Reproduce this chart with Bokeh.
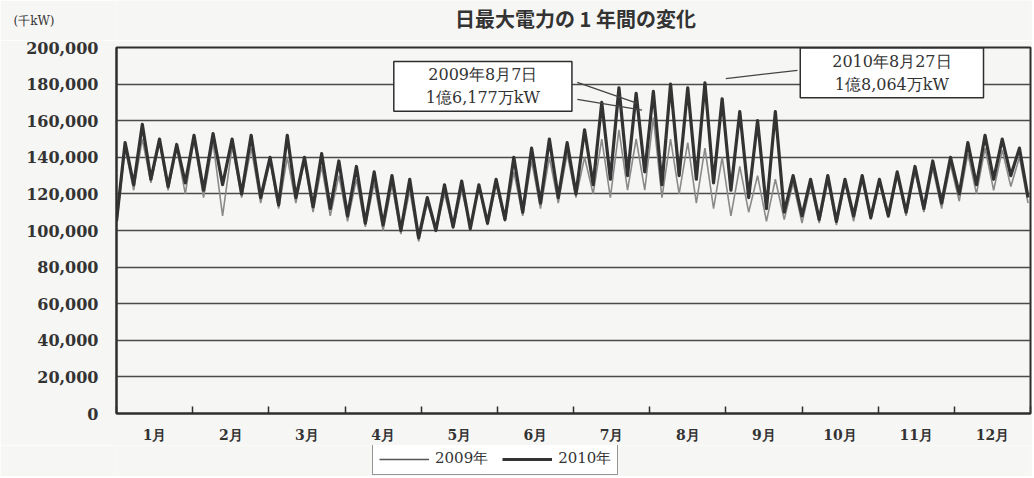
import numpy as np
from bokeh.plotting import figure
from bokeh.layouts import column
from bokeh.models import (FixedTicker, NumeralTickFormatter, Label, Legend, LegendItem,
                          ColumnDataSource)
from bokeh.embed import file_html
from bokeh.resources import INLINE

# ---------------- data (千kW) ----------------
title_text = "日最大電力の 1 年間の変化"
unit_text = "(千kW)"
month_labels = ["1月", "2月", "3月", "4月", "5月", "6月", "7月", "8月", "9月", "10月", "11月", "12月"]
month_days = [31, 28, 31, 30, 31, 30, 31, 31, 30, 31, 30, 31]

# weekly lows (Sundays, 53) and weekly highs (mid-week, 52)
lows_2010 = [105000, 125000, 128000, 124000, 126000, 122000, 125000, 120000, 118000,
             114000, 118000, 113000, 112000, 108000, 104000, 103000, 100000,
             96000, 100000, 102000, 101000, 104000, 106000, 110000, 115000, 118000,
             120000, 125000, 128000, 130000, 132000, 125000, 130000, 128000,
             126000, 122000, 118000, 112000, 110000, 108000, 106000, 105000, 108000, 107000,
             108000, 110000, 112000, 115000, 120000, 125000, 128000, 130000, 118000]
highs_2010 = [148000, 158000, 150000, 147000, 152000, 153000, 150000, 152000, 140000,
              152000, 140000, 142000, 138000, 135000, 132000, 130000, 128000,
              118000, 125000, 127000, 125000, 128000, 140000, 145000, 150000, 148000,
              155000, 170000, 178000, 175000, 176000, 180000, 178000, 180640,
              172000, 165000, 160000, 165000, 130000, 128000, 130000, 128000, 130000,
              128000, 132000, 135000, 138000, 140000, 148000, 152000, 150000, 145000]

lows_2009 = [103000, 122000, 126000, 122000, 120000, 118000, 108000, 118000, 115000,
             112000, 115000, 110000, 108000, 105000, 102000, 100000, 98000,
             94000, 100000, 101000, 102000, 103000, 105000, 108000, 112000, 115000,
             118000, 120000, 118000, 122000, 122000, 118000, 120000, 115000,
             112000, 108000, 110000, 105000, 106000, 104000, 104000, 103000, 105000, 106000,
             107000, 108000, 110000, 112000, 116000, 120000, 122000, 124000, 115000]
highs_2009 = [145000, 150000, 148000, 145000, 150000, 148000, 146000, 145000, 138000,
              140000, 138000, 135000, 130000, 128000, 126000, 125000, 122000,
              115000, 120000, 122000, 124000, 125000, 132000, 138000, 140000, 142000,
              140000, 150000, 155000, 150000, 161770, 150000, 148000, 145000,
              140000, 135000, 130000, 128000, 126000, 125000, 127000, 126000, 128000,
              126000, 130000, 132000, 134000, 136000, 142000, 145000, 144000, 140000]

# ---------------- helpers ----------------
month_starts = np.concatenate([[0], np.cumsum(month_days)])


def series(lows, highs):
    days, vals = [], []
    for k in range(len(lows)):
        days.append(7 * k)
        vals.append(lows[k])
        if k < len(highs):
            days.append(7 * k + 3.5)
            vals.append(highs[k])
    days = np.minimum(np.array(days, dtype=float), 365)
    x = np.interp(days, month_starts, np.arange(13))
    return ColumnDataSource(dict(x=x, y=vals))


src09 = series(lows_2009, highs_2009)
src10 = series(lows_2010, highs_2010)

SERIF = "DejaVu Serif"
CJK = "Noto Sans CJK JP"
INK = "#2e2e2e"
TXT = "#333333"
BG = "#f6f6f4"
W = 1032
FL, FR = 116, 1030   # frame left / right on the page (frames are aligned in the column)

# ---------------- header (title + unit) ----------------
head = figure(width=W, height=40, output_backend="svg", toolbar_location=None,
              x_range=(FL, FR), y_range=(0, 40), x_axis_location=None,
              min_border=0, min_border_left=FL, min_border_right=W - FR,
              background_fill_color=BG, border_fill_color=BG)
head.outline_line_color = None
head.grid.visible = False
head.yaxis.ticker = FixedTicker(ticks=[20])
head.yaxis.major_label_overrides = {20: unit_text}
head.yaxis.axis_line_color = None
head.yaxis.major_tick_in = 0
head.yaxis.major_tick_out = 0
head.yaxis.minor_tick_in = 0
head.yaxis.minor_tick_out = 0
head.yaxis.major_label_text_font = SERIF
head.yaxis.major_label_text_font_size = "12px"
head.yaxis.major_label_text_color = TXT
head.yaxis.major_label_standoff = 62
head.add_layout(Label(x=575, y=22, text=title_text, text_align="center", text_baseline="middle",
                      text_font=CJK, text_font_size="20px", text_font_style="bold",
                      text_color=TXT))

# ---------------- main plot ----------------
p = figure(width=W, height=405, output_backend="svg", toolbar_location=None,
           x_range=(0, 12), y_range=(0, 200000),
           min_border_left=FL, min_border_right=W - FR, min_border_top=7, min_border_bottom=30,
           background_fill_color=BG, border_fill_color=BG)

p.outline_line_color = INK
p.outline_line_width = 2

p.xgrid.grid_line_color = None
p.ygrid.grid_line_color = "#4a4a4a"
p.ygrid.grid_line_width = 1.5

p.yaxis.ticker = FixedTicker(ticks=list(range(0, 200001, 20000)))
p.yaxis.formatter = NumeralTickFormatter(format="0,0")
p.yaxis.major_tick_out = 0
p.yaxis.major_tick_in = 0
p.yaxis.minor_tick_out = 0
p.yaxis.minor_tick_in = 0
p.yaxis.axis_line_color = INK
p.yaxis.axis_line_width = 2
p.yaxis.major_label_text_font = SERIF
p.yaxis.major_label_text_font_size = "16px"
p.yaxis.major_label_text_font_style = "bold"
p.yaxis.major_label_text_color = TXT
p.yaxis.major_label_standoff = 18

p.xaxis.ticker = FixedTicker(ticks=[i + 0.5 for i in range(12)], minor_ticks=list(range(13)))
p.xaxis.major_label_overrides = {i + 0.5: month_labels[i] for i in range(12)}
p.xaxis.major_tick_in = 0
p.xaxis.major_tick_out = 0
p.xaxis.minor_tick_in = 7
p.xaxis.minor_tick_out = 0
p.xaxis.minor_tick_line_color = INK
p.xaxis.minor_tick_line_width = 1.5
p.xaxis.axis_line_color = INK
p.xaxis.axis_line_width = 2
p.xaxis.major_label_text_font = SERIF
p.xaxis.major_label_text_font_size = "14px"
p.xaxis.major_label_text_font_style = "bold"
p.xaxis.major_label_text_color = TXT
p.xaxis.major_label_standoff = 13

r09 = p.line("x", "y", source=src09, line_color="#8a8a8a", line_width=1.6)
r10 = p.line("x", "y", source=src10, line_color="#333333", line_width=3.2, line_join="round")

# callouts
lead_x0 = [6.05, 6.05, 8.94]
lead_y0 = [181000, 171700, 187500]
lead_x1 = [6.83, 6.9, 8.0]
lead_y1 = [169600, 165800, 183000]
p.segment(lead_x0, lead_y0, lead_x1, lead_y1, line_color="#444444", line_width=1.3)

box_style = dict(text_align="center", text_baseline="middle",
                 text_font=SERIF, text_font_size="16px", text_color=TXT,
                 border_line_color=INK, border_line_width=1.5,
                 background_fill_color="#ffffff", background_fill_alpha=1.0,
                 padding=dict(left=32, right=32, top=4, bottom=4))
p.add_layout(Label(x=4.81, y=178800, text="2009年8月7日\n1億6,177万kW", **box_style))
p.add_layout(Label(x=10.18, y=186100, text="2010年8月27日\n1億8,064万kW", **box_style))

# ---------------- legend strip ----------------
leg = figure(width=W, height=31, output_backend="svg", toolbar_location=None,
             x_range=(0, 1), y_range=(0, 1), x_axis_location=None, y_axis_location=None,
             min_border=0, min_border_left=FL, min_border_right=W - FR,
             background_fill_color=BG, border_fill_color=BG)
leg.outline_line_color = None
leg.grid.visible = False
# renderers kept outside the visible range: they only supply the legend glyphs
l09 = leg.line(x=[5, 6], y=[5, 6], line_color="#555555", line_width=1.6)
l10 = leg.line(x=[5, 6], y=[5, 6], line_color="#333333", line_width=3.2)
legend = Legend(items=[LegendItem(label="2009年", renderers=[l09]),
                       LegendItem(label="2010年", renderers=[l10])],
                orientation="horizontal", location=(372 - FL, 1),
                label_text_font=SERIF, label_text_font_size="15px",
                label_text_color=TXT, glyph_width=50, glyph_height=12,
                spacing=14, padding=6, margin=0, label_standoff=6,
                border_line_color=INK, border_line_width=1.5,
                background_fill_color="#ffffff", background_fill_alpha=1.0)
leg.add_layout(legend)

layout = column(head, p, leg, spacing=0)
open("out.html", "w").write(file_html(layout, INLINE))
